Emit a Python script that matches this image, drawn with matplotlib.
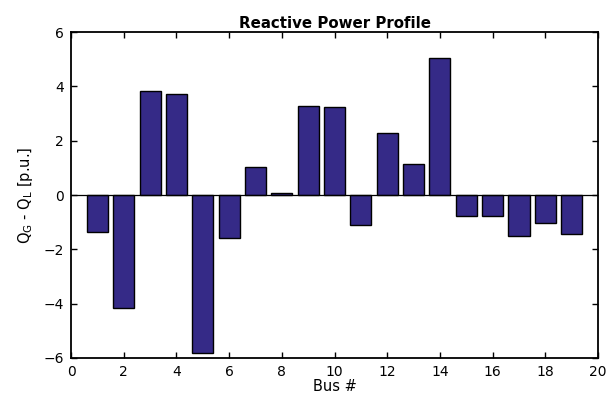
import matplotlib
matplotlib.use("Agg")
import matplotlib.pyplot as plt

plt.rcParams['font.family'] = ['DejaVu Sans']

buses = list(range(1, 20))
q_net = [-1.35, -4.15, 3.83, 3.71, -5.8, -1.6, 1.05, 0.06, 3.27, 3.23,
         -1.09, 2.3, 1.16, 5.04, -0.79, -0.78, -1.5, -1.03, -1.42]
x_ticks = list(range(0, 21, 2))
y_ticks = list(range(-6, 7, 2))

fig = plt.figure(figsize=(6.16, 3.96), dpi=100)
ax = fig.add_axes([0.1153, 0.096, 0.8555, 0.823])
ax.bar(buses, q_net, width=0.8, color='#352a87', edgecolor='black', linewidth=1.0)
ax.axhline(0, color='black', linewidth=0.9)
ax.set_xlim(0, 20)
ax.set_ylim(-6, 6)
ax.set_xticks(x_ticks)
ax.set_yticks(y_ticks)
ax.tick_params(direction='in', top=True, right=True, labelsize=10, length=4, width=1, pad=5)
for s in ax.spines.values():
    s.set_linewidth(1.3)
ax.set_title('Reactive Power Profile', fontsize=10.8, fontweight='bold', pad=3)
ax.set_xlabel('Bus #', fontsize=10.5, labelpad=0)
ax.set_ylabel(r'Q$_\mathregular{G}$ - Q$_\mathregular{L}$ [p.u.]', fontsize=10.5, labelpad=6)
fig.savefig('out.png', dpi=100)
